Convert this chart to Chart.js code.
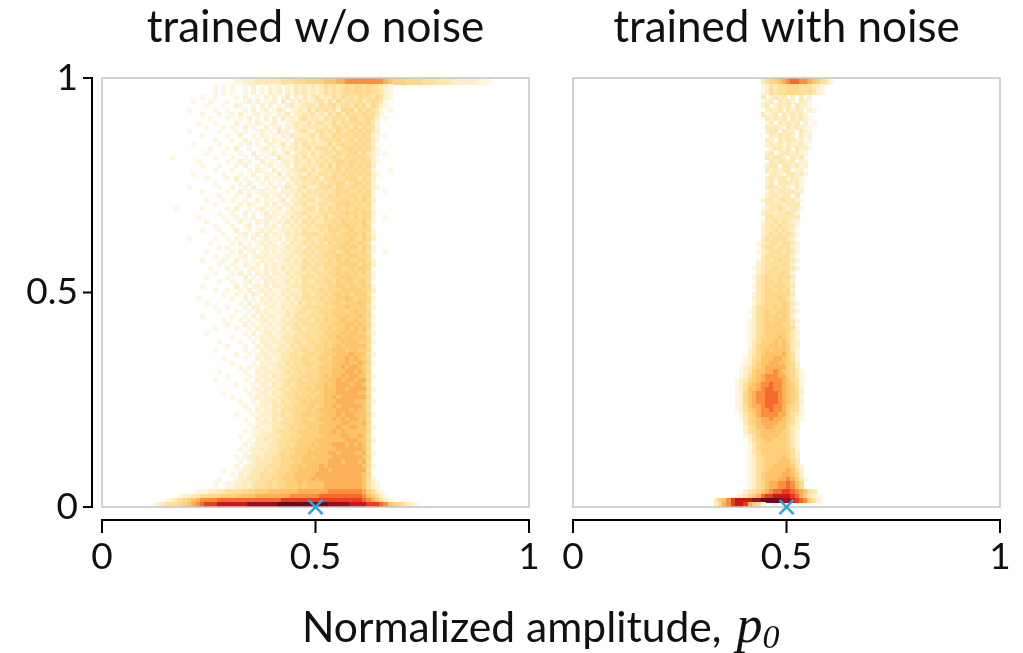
<!DOCTYPE html>
<html><head><meta charset="utf-8">
<script src="https://cdn.jsdelivr.net/npm/chart.js@4"></script>
<style>
html,body{margin:0;padding:0;background:#fff;width:1023px;height:653px;overflow:hidden}
canvas{position:absolute;top:0}
#xlabel{position:absolute;left:302px;top:600px;height:52px;line-height:52px;font-family:Lato,sans-serif;font-size:42.6px;color:#111;white-space:nowrap}
#xlabel i{font-family:"Liberation Serif",serif;font-size:52px;margin-left:4px;line-height:0}
#xlabel sub{font-family:"Liberation Serif",serif;font-style:italic;font-size:34px;line-height:0;vertical-align:-6px}
</style></head><body>
<canvas id="c1" width="560" height="653" style="left:0;width:560px;height:653px"></canvas>
<canvas id="c2" width="550" height="653" style="left:473px;width:550px;height:653px"></canvas>
<div id="xlabel">Normalized amplitude, <i>p</i><sub>0</sub></div>
<script>
const titles = ["trained w/o noise", "trained with noise"];
const xTicks = [0, 0.5, 1];
const yTicks = [0, 0.5, 1];
const target = [0.5, 0];
const binWidth = 0.01;
const palette = [null,"#fff6e2","#fff0cc","#ffe8b2","#fee09c","#fed98c","#fed07c","#fdc46c","#fcb158","#fb8f3e","#f46a2e","#e63e1f","#c81a1c","#9e0b22","#6a0a1c"];

// strip rows: x starts at leftStripStart / rightStripStart
const leftStripStart = 0.10;
const rightStripStart = 0.30;
const topEdges = [1, .985, .96];
const bottomEdges = [.06, .04, .03, .02, .01, 0];
const leftTop = [
"0000000000 0000000000 0112223333 3344455566 6677788999 9999998766 6555544433 3322222211 1",
"0000000000 0000001010 1001020102 1202132323 2343434545 5454432100"
];
const leftBottom = [
"0000000000 0000001001 1223234445 4556667677 7788888888 8742100000",
"0000000000 0011122334 4445556667 7777778888 8889999999 9864210000",
"0000000012 2334455566 6677778888 8888999999 9aaaaaaaaa a976421000",
"0000012345 6789999aaa aaaaaaaaaa aabbbbbbbb bbbbbbbbbb ba98642100 0",
"0012344456 789abbbccc ccccdddddd deeeeeeeee eeedddddcc ccbbba9765 4321"
];
const rightTop = [
"0000000000 0000345678 9aa9987643 10",
"0000000000 0000124344 5554443210"
];
const rightBottom = [
"0000000000 0124578899 a975000000",
"0000000000 2345789aab ba98743000",
"0000000012 3568abbccc cba8632100",
"0003679bcc ccddeeeeed dcba964200",
"0002589bcc b864100000 0000000000"
];

// body rows: one row per 0.01 of y from 0.96 down to 0.06
const bodyTop = 0.96;
const bodyStep = 0.01;
const leftBodyStart = 0.15;
const leftBody = [
"0000 0000100100 0010200102 0201302031 3423243534 3544354210",
"0000 0010001000 1000120201 1203021322 2342425344 4534543100",
"0000 0000010001 0021001020 2010231233 3243453443 5453542100",
"0000 0100000100 1000102012 0132012324 2434342545 3545431010",
"0000 0000100010 0102001201 1021302233 4232435354 4454531000",
"0000 0000001000 1001020102 0203120342 3324344435 5345420100",
"0000 0001000100 0020010210 1200123224 2443353544 4545310000",
"0000 0000010001 0100201002 0120213233 3334245453 5354410000",
"0000 0100000010 0010100120 1031202342 2443435345 4545320000",
"0000 0000100000 1002001021 0102132223 4243354454 5454210100",
"0000 0000000100 0100200102 0210103332 3234445345 3545310000",
"0000 0010000010 0001020100 2013023243 3323534544 5454200000",
"0000 0000001000 1020010012 0102123234 2444353455 4545310000",
"0000 0000010001 0001002010 1201302332 4234435445 5353210100",
"0100 0000000100 0100100201 0031123242 3343454354 4544200000",
"0000 0001000000 1002010020 1102213324 2434345545 5454210000",
"0000 0000100010 0010200101 2011203233 3343535445 4545200000",
"0000 0000000100 0100010210 0201123342 4234445354 5454100010",
"0000 0010000001 0001002001 1030212324 3344354545 4545210000",
"0000 0000010000 1020100102 0112032343 3424454455 5354200000",
"0000 0000000100 0001020010 2010213233 4343445534 5545100000",
"0000 0100000010 0100102001 0201321342 2344535445 5454210000",
"0000 0000100000 1002010120 1102122324 3434345554 4545100100",
"0000 0000000010 0010020012 0120213243 3343545445 5455100000",
"0000 0000010001 0100100201 1013022334 4234454554 5464200000",
"0000 0000000100 0001021002 0201213342 3344345565 4545100000",
"0010 0000100000 1020010120 1120132234 4243545454 5554100000",
"0000 0000000010 0100201012 0211223343 3344454565 5465200000",
"0000 0001000001 0010102001 2102132324 3435345554 6455100100",
"0000 0000010000 1002010212 0121323243 4334454655 5564100000",
"0000 0000000100 0100120102 1202132334 3444545565 5465000000",
"0000 0000100010 0020010121 2012223243 3343555456 4555100000",
"0000 0000000001 0001201202 0211323344 4434454565 6564100000",
"0000 0100000100 1010102012 1120223234 3345455556 5465200000",
"0000 0000001000 0102010121 2102132343 4343545565 5654000000",
"0000 0000000010 1000210102 1211323324 3444455656 6465100000",
"0000 0000010000 0102012012 0212223343 4344554565 5564100100",
"0000 0000000100 1001201212 1121232334 3445456556 6555000000",
"0000 0000100001 0020101021 2012323243 4344546565 5664100000",
"0000 0000000010 0100210202 1212223344 3445545666 6465200000",
"0000 0000001000 1010012102 1213232343 4435456556 5665000000",
"0000 0000000100 0102010212 0221323334 3444556565 6564100000",
"0000 0000010000 1000201021 2112232344 4345455666 6555100000",
"0000 0000000010 0100120102 1212323243 3445546566 5664000000",
"0000 0000100000 0020101212 0221233344 4344556656 6565100000",
"0000 0000000100 1001020121 2112322343 4454555666 6655200000",
"0000 0000000001 0010102102 1213233244 3445466565 6664000000",
"0000 0001000000 0100201021 2121323344 4454556676 5665100000",
"0000 0000010000 0001020112 1212232434 3445566566 6765000000",
"0000 0000000100 1000102201 2213233344 4545456676 6664100000",
"0000 0000000010 0010010212 1122323443 4455566656 7665000000",
"0000 0000100000 0100102021 2212324334 4445566676 6765100000",
"0000 0000000001 0001010122 0213233444 3546556766 7664000000",
"0000 0000000000 1000201021 2122334344 4455566677 6765100000",
"0000 0000000100 0010010212 1213234434 4455656676 7675000000",
"0000 0000010000 0000102012 2122323444 4546566767 7664100000",
"0000 0000000000 0100010121 2213334345 4455667677 6775000000",
"0000 0000000010 0001001022 1222334434 5456566777 7665100000",
"0000 0000000000 1000100212 2123243444 4556567677 7774000000",
"0000 0000000100 0000101021 2232334454 4556677767 7665000000",
"0000 0000000000 0010010122 1223344345 5456667778 7774100000",
"0000 0000000001 0000100212 2123344454 4566577787 8765000000",
"0000 0000000000 0100001021 2232434455 5456677787 7875100000",
"0000 0000000000 0001010122 1233344445 4566677878 8764000000",
"0000 0000000010 0000100212 2223434545 5566677788 7875000000",
"0000 0000000000 1000010122 1323344455 5567677878 8774100000",
"0000 0000000100 0000100212 2233444545 5566778788 7885000000",
"0000 0000000000 0010001022 1323434555 5667678887 8874000000",
"0000 0000000000 0000101212 2234344556 5667778878 8885100000",
"0000 0000000001 0000010122 1323445455 6567778888 8774000000",
"0000 0000000000 0100001212 2233445556 5667787888 8885000000",
"0000 0000000000 0001001022 2324344565 6667778888 7774100000",
"0000 0000000000 0000100122 1333445556 6567787888 8875000000",
"0000 0000000000 0000010212 2324445556 5677778887 8774000000",
"0000 0000000000 0010001122 2334345566 6667778788 7775100000",
"0000 0000000000 0000100212 1323445565 5677787878 8774000000",
"0000 0000000000 0000010122 2334445566 6667777887 7785000000",
"0000 0000000000 0000001212 2333454556 6677778778 8774100000",
"0000 0000000000 0000101122 2344445666 6677787877 7775000000",
"0000 0000000000 0001001222 3334455566 6667777887 7874000000",
"0000 0000000000 0000010223 2344455666 6777777788 8775100000",
"0000 0000000000 0000101222 3344545666 7677788878 7874000000",
"0000 0000000000 0001012232 3344556667 6777778888 8875000000",
"0000 0000000000 0000102223 3345456667 7777887888 7784100000",
"0000 0000000000 0010122323 3445566677 6777788888 8875000000",
"0000 0000000000 0001012333 3445556677 7777888788 8784000000",
"0000 0000000000 0010122333 4445566767 7787888888 8875100000",
"0000 0000000001 0001223334 3455566777 7788788888 8884000000",
"0000 0000000000 0102123344 4455667777 7888888888 8875000000",
"0000 0000000010 0012233344 4556667777 8788888888 8874100000",
"0000 0000000100 1122233444 5556667777 8888888888 8885000000"
];

const rightBodyStart = 0.38;
const rightBody = [
"00000030 2323020302 00",
"00000012 3032320321 00",
"00000023 0232303221 00",
"00000002 3230323202 10",
"00000031 2303232310 00",
"00000003 2323032321 00",
"00000001 3032323020 10",
"00000003 2320323211 00",
"00000002 3303220321 00",
"00000000 3232320312 00",
"00000003 2032332201 00",
"00000002 3230322310 00",
"00000000 2332303221 00",
"00000002 3023323110 00",
"00000003 2332032300 00",
"00000000 3233230210 00",
"00000002 3303323120 00",
"00000003 2323302200 00",
"00000000 3320332310 00",
"00000002 3233032100 00",
"00000002 3033323100 00",
"00000003 3323203100 00",
"00000001 3233332200 00",
"00000002 3323303000 00",
"00000023 3234331100 00",
"00000003 3332333000 00",
"00000012 3343233100 00",
"00000023 3233431000 00",
"00000003 4333333000 00",
"00000013 3434321000 00",
"00000023 4343331000 00",
"00000023 3434320000 00",
"00000023 4343431000 00",
"00000034 3444320000 00",
"00000123 4434431000 00",
"00000034 4344421000 00",
"00000123 4443431000 00",
"00000034 4444420000 00",
"00000134 3454431000 00",
"00000234 4445420000 00",
"00001234 4544431000 00",
"00000234 5445410000 00",
"00001345 4454530000 00",
"00000345 5454420000 00",
"00001345 4555430000 00",
"00000345 5454520000 00",
"00001345 5555530000 00",
"00002345 5565420000 00",
"00001345 5556531000 00",
"00002455 5656520000 00",
"00012456 5566531000 00",
"00002456 6656520000 00",
"00012456 5666531000 00",
"00012456 6665530000 00",
"00012456 6666541000 00",
"00012456 6666532000 00",
"00012456 6676531000 00",
"00013466 6767532000 00",
"00013566 7767632000 00",
"00023567 6777631000 00",
"00023567 7778641000 00",
"00124577 7887641000 00",
"00124677 8877652000 00",
"01235678 8888652000 00",
"01236778 8987653100 00",
"01246789 9988653100 00",
"12356789 9998754100 00",
"12467899 a998764100 00",
"1247789a a998764200 00",
"1257899a aa98765200 00",
"1257899a aa98765100 00",
"1257899a aa98764200 00",
"1247889a a998654100 00",
"12467899 a998654100 00",
"01356899 9988643100 00",
"01356788 9887642100 00",
"00356788 8877542000 00",
"00245778 8777532000 00",
"00245677 7776531000 00",
"00124677 7766531000 00",
"00024567 7666531000 00",
"00013566 6666531000 00",
"00013566 6666541000 00",
"00013466 6666642000 00",
"00012456 6667642000 00",
"00012456 6677753000 00",
"00012456 6777763100 00",
"00012456 7777874200 00",
"00012467 7778875200 00",
"00012467 7788986310 00"
];

function addRows(cells, rows, start, edgeOf) {
  rows.forEach((row, r) => {
    const chars = row.replace(/ /g, "");
    const top = edgeOf(r), bottom = edgeOf(r + 1);
    for (let i = 0; i < chars.length; i++) {
      const level = parseInt(chars[i], 31);
      if (!level) continue;
      cells.push({x: start + (i + 0.5) * binWidth, y: (top + bottom) / 2, top, bottom, level});
    }
  });
}
function buildCells(topRows, bodyRows, bottomRows, stripStart, bodyStart) {
  const cells = [];
  addRows(cells, topRows, stripStart, r => topEdges[r]);
  addRows(cells, bodyRows, bodyStart, r => bodyTop - r * bodyStep);
  addRows(cells, bottomRows, stripStart, r => bottomEdges[r]);
  return cells;
}

const swatches = new Map();
function swatch(color, w, h) {
  const key = color + w + "x" + h;
  if (!swatches.has(key)) {
    const c = document.createElement("canvas");
    c.width = w; c.height = h;
    const g = c.getContext("2d");
    g.fillStyle = color; g.fillRect(0, 0, w, h);
    swatches.set(key, c);
  }
  return swatches.get(key);
}

const offsetAxes = {
  id: "offsetAxes",
  afterDatasetDraw(chart, args) {
    if (args.index !== 0) return;
    const a = chart.chartArea, ctx = chart.ctx;
    ctx.save();
    ctx.strokeStyle = "#c4c4c4"; ctx.lineWidth = 1.5;
    ctx.strokeRect(a.left, a.top, a.right - a.left, a.bottom - a.top);
    ctx.restore();
  },
  afterDraw(chart, _args, opts) {
    const a = chart.chartArea, ctx = chart.ctx, xs = chart.scales.x, ys = chart.scales.y;
    ctx.save();
    ctx.strokeStyle = "#000"; ctx.lineWidth = 2; ctx.lineCap = "butt";
    const yLine = a.bottom + 13;
    ctx.beginPath();
    ctx.moveTo(a.left - 1, yLine); ctx.lineTo(a.right + 1, yLine);
    xs.ticks.forEach((t, i) => { const p = xs.getPixelForTick(i); ctx.moveTo(p, yLine); ctx.lineTo(p, yLine + 13); });
    if (opts.showY) {
      const xLine = a.left - 10;
      ctx.moveTo(xLine, a.top - 1); ctx.lineTo(xLine, a.bottom + 1);
      ys.ticks.forEach((t, i) => { const p = ys.getPixelForTick(i); ctx.moveTo(xLine, p); ctx.lineTo(xLine - 9, p); });
    }
    ctx.stroke();
    ctx.restore();
  }
};

function makeChart(id, title, cells, showY, padRight, yWidth) {
  return new Chart(document.getElementById(id), {
    type: "scatter",
    plugins: [offsetAxes],
    data: {datasets: [
      {
        data: cells, order: 1, pointRadius: 3, pointHoverRadius: 3, borderWidth: 0, pointBorderWidth: 0,
        pointStyle(ctx) {
          const c = ctx.raw; if (!c) return "rect";
          const chart = ctx.chart, xs = chart.scales.x, ys = chart.scales.y;
          const w = Math.ceil(xs.getPixelForValue(binWidth) - xs.getPixelForValue(0));
          const h = Math.ceil(ys.getPixelForValue(c.bottom) - ys.getPixelForValue(c.top));
          return swatch(palette[c.level], w, h);
        }
      },
      {
        data: [{x: target[0], y: target[1]}], order: 0, clip: false,
        pointStyle: "crossRot", pointRadius: 10, pointBorderColor: "#29a9e0", pointBorderWidth: 2.5, pointBackgroundColor: "#29a9e0"
      }
    ]},
    options: {
      responsive: false, animation: false, events: [],
      layout: {padding: {left: 0, right: padRight, top: 0, bottom: 0}},
      plugins: {
        legend: {display: false}, tooltip: {enabled: false},
        title: {display: true, text: title, fullSize: false, color: "#111", font: {family: "Lato", size: 44, weight: "normal", lineHeight: 1}, padding: {top: 6, bottom: 28}},
        offsetAxes: {showY}
      },
      scales: {
        x: {
          type: "linear", min: 0, max: 1,
          grid: {display: false}, border: {display: false},
          afterBuildTicks(s) { s.ticks = xTicks.map(v => ({value: v})); },
          ticks: {color: "#111", font: {family: "Lato", size: 37}, padding: 20, maxRotation: 0, autoSkip: false, callback: v => String(v)},
          afterFit(s) { s.height = 146; s.paddingLeft = 0; s.paddingRight = 0; }
        },
        y: {
          type: "linear", min: 0, max: 1,
          grid: {display: false}, border: {display: false},
          afterBuildTicks(s) { s.ticks = yTicks.map(v => ({value: v})); },
          ticks: {display: showY, color: "#111", font: {family: "Lato", size: 37}, padding: 16, autoSkip: false, callback: v => String(v)},
          afterFit(s) { s.width = yWidth; s.paddingTop = 0; s.paddingBottom = 0; }
        }
      }
    }
  });
}

makeChart("c1", titles[0], buildCells(leftTop, leftBody, leftBottom, leftStripStart, leftBodyStart), true, 31, 102);
makeChart("c2", titles[1], buildCells(rightTop, rightBody, rightBottom, rightStripStart, rightBodyStart), false, 23, 100);
</script>
</body></html>
